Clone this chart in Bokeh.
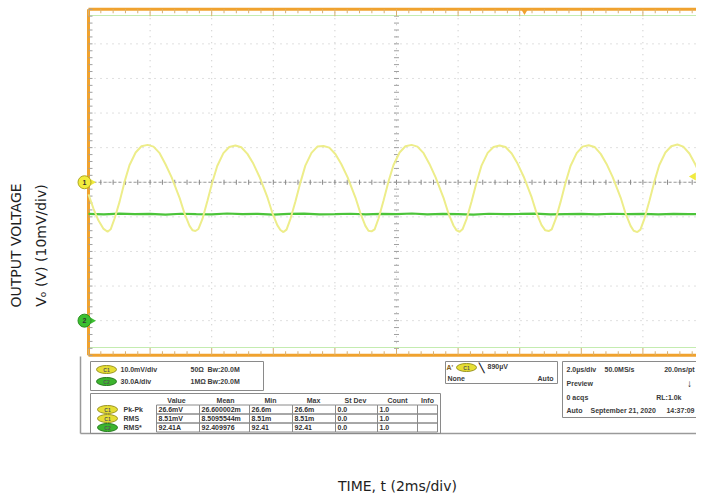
import numpy as np
from bokeh.plotting import figure
from bokeh.models import Range1d
from bokeh.core.properties import value
from bokeh.embed import file_html
from bokeh.resources import INLINE

# ---------------- data ----------------
# Channel 1 (output voltage, mV) vs time (ms)
time_ms = [0.00, 0.16, 0.32, 0.48,
           0.62, 0.72, 0.85, 1.01, 1.17, 1.33, 1.53, 1.72, 1.92, 2.11, 2.31, 2.50, 2.70, 2.96, 3.12, 3.28, 3.38,
           3.47, 3.57, 3.70, 3.86, 4.02, 4.18, 4.38, 4.57, 4.77, 4.96, 5.16, 5.35, 5.55, 5.81, 5.97, 6.13, 6.23,
           6.33, 6.43, 6.56, 6.72, 6.88, 7.04, 7.24, 7.43, 7.63, 7.82, 8.02, 8.21, 8.41, 8.67, 8.83, 8.99, 9.09,
           9.19, 9.29, 9.42, 9.58, 9.74, 9.90, 10.10, 10.29, 10.49, 10.68, 10.88, 11.07, 11.27, 11.53, 11.69, 11.85, 11.95,
           12.05, 12.15, 12.28, 12.44, 12.60, 12.76, 12.96, 13.15, 13.35, 13.54, 13.74, 13.93, 14.13, 14.39, 14.55, 14.71, 14.83,
           14.94, 15.04, 15.17, 15.33, 15.49, 15.65, 15.85, 16.04, 16.24, 16.43, 16.63, 16.82, 17.02, 17.28, 17.44, 17.60, 17.70,
           17.82, 17.92, 18.05, 18.21, 18.37, 18.53, 18.73, 18.92, 19.12, 19.31, 19.51, 19.70, 19.90, 20.00]
vo_mv = [-3.5, -7.6, -11.0, -13.4,
         -14.3, -13.6, -10.4, -5.6, 0.1, 4.9, 8.6, 10.4, 10.8, 10.3, 8.4, 5.2, 1.4, -4.6, -9.1, -12.6, -13.9,
         -14.1, -13.5, -10.6, -5.4, 0.0, 4.7, 8.4, 10.2, 10.6, 10.1, 8.2, 5.4, 1.6, -4.4, -8.9, -12.4, -13.8,
         -14.4, -13.7, -10.5, -5.5, -0.1, 4.8, 8.5, 10.3, 10.5, 10.0, 8.1, 5.2, 1.5, -4.5, -9.0, -12.6, -14.0,
         -14.2, -13.6, -10.4, -5.3, 0.2, 4.9, 8.6, 10.4, 10.8, 10.3, 8.4, 5.3, 1.4, -4.6, -9.1, -12.5, -13.9,
         -14.3, -13.5, -10.5, -5.5, 0.0, 4.8, 8.5, 10.2, 10.6, 10.2, 8.3, 5.4, 1.6, -4.4, -9.0, -12.4, -13.9,
         -14.1, -13.6, -10.6, -5.6, -0.1, 4.7, 8.4, 10.3, 10.7, 10.2, 8.2, 5.3, 1.5, -4.5, -9.1, -12.6, -14.0,
         -14.4, -13.7, -10.5, -5.4, 0.1, 4.9, 8.6, 10.4, 10.9, 10.3, 8.3, 5.2, 1.4, -0.2]

# Channel 2 (current, A) vs time (ms)
ch2_time_ms = [0.0, 0.5, 1.0, 1.5, 2.0, 2.5, 3.0, 3.5, 4.0, 4.5, 5.0, 5.5, 6.0, 6.5, 7.0, 7.5, 8.0,
               8.5, 9.0, 9.5, 10.0, 10.5, 11.0, 11.5, 12.0, 12.5, 13.0, 13.5, 14.0, 14.5, 15.0, 15.5,
               16.0, 16.5, 17.0, 17.5, 18.0, 18.5, 19.0, 19.5, 20.0]
ch2_amps = [92.6, 92.1, 92.8, 92.3, 92.5, 91.9, 92.7, 92.4, 92.2, 92.9, 92.3, 92.6, 92.0, 92.5, 92.8,
            92.2, 92.4, 92.7, 92.1, 92.5, 92.3, 92.9, 92.2, 92.6, 92.4, 92.0, 92.7, 92.3, 92.5, 92.8,
            92.1, 92.4, 92.6, 92.2, 92.7, 92.3, 92.5, 92.1, 92.6, 92.4, 92.3]

# Scope settings / measurement table texts
ch_settings = [["10.0mV/div", "50Ω", "Bw:20.0M"], ["30.0A/div", "1MΩ", "Bw:20.0M"]]
table_header = ["Value", "Mean", "Min", "Max", "St Dev", "Count", "Info"]
meas_names = ["Pk-Pk", "RMS", "RMS*"]
meas_value = ["26.6mV", "8.51mV", "92.41A"]
meas_mean = ["26.600002m", "8.5095544m", "92.409976"]
meas_min = ["26.6m", "8.51m", "92.41"]
meas_max = ["26.6m", "8.51m", "92.41"]
meas_std = ["0.0", "0.0", "0.0"]
meas_count = ["1.0", "1.0", "1.0"]
meas_info = ["", "", ""]

# ---------------- figure / scales ----------------
PX_MS = 30.8          # screen px per ms (61.6 px per 2 ms division)
PX_MV = 3.46          # screen px per mV (34.6 px per 10 mV division)
X0 = 88.0             # canvas px of t = 0
YTOP = 8.75           # canvas px of +50 mV

def xp(X):
    return (X - X0) / PX_MS

def yp(Y):
    return 50.0 - (Y - YTOP) / PX_MV

W, H = 696, 496
p = figure(width=W, height=H, output_backend="svg", toolbar_location=None,
           x_range=Range1d(xp(0), xp(W)), y_range=Range1d(yp(H), yp(0)),
           x_axis_type=None, y_axis_type=None, min_border=0)
p.outline_line_color = None
p.grid.visible = False
p.background_fill_color = "white"
p.border_fill_color = "white"
# channel 2: 30 A/div, ground 4 divisions below centre
y0, y1 = yp(H), yp(0)
p.extra_y_ranges = {"amps": Range1d(3 * (y0 + 40), 3 * (y1 + 40))}

FONT = value("Liberation Sans")
def txt(xs, ys, texts, align="left", size="7px", color="#3a3a3a", bold=True, font=FONT, angle=0):
    p.text(x=xs, y=ys, text=texts, text_font=font, text_font_size=size,
           text_font_style="bold" if bold else "normal", text_color=color,
           text_align=align, text_baseline="middle", angle=angle)

# ---------------- graticule ----------------
divs_x = np.arange(0, 20.001, 2.0)
divs_y = np.arange(-50, 50.001, 10.0)
p.segment(x0=divs_x, y0=-50, x1=divs_x, y1=50, line_color="#c0c0c0", line_width=1, line_dash="1 5")
p.segment(x0=0, y0=divs_y, x1=20, y1=divs_y, line_color="#c0c0c0", line_width=1, line_dash="1 5")
# centre cross with minor ticks
p.segment(x0=[0], y0=[0], x1=[20], y1=[0], line_color="#9a9a9a", line_width=1, line_dash="3 2")
mx = np.arange(0, 20.001, 0.4)
p.segment(x0=mx, y0=-2.5 / PX_MV, x1=mx, y1=2.5 / PX_MV, line_color="#888888", line_width=1)
my = np.arange(-50, 50.001, 2.0)
p.segment(x0=10 - 2.5 / PX_MS, y0=my, x1=10 + 2.5 / PX_MS, y1=my, line_color="#a0a0a0", line_width=1)
# light green cursor lines
p.segment(x0=0, y0=[yp(15), yp(347)], x1=20, y1=[yp(15), yp(347)], line_color="#c4ecb0", line_width=1)

# orange frame with ticks
ORANGE = "#f0a22e"
p.segment(x0=0, y0=50, x1=20, y1=50, line_color=ORANGE, line_width=3)
p.segment(x0=0, y0=-50, x1=20, y1=-50, line_color=ORANGE, line_width=3)
p.segment(x0=0, y0=-50, x1=0, y1=50, line_color=ORANGE, line_width=3)
tick_len = np.where(np.isclose(mx % 2.0, 0) | np.isclose(mx % 2.0, 2.0), 7, 4) / PX_MV
p.segment(x0=mx, y0=50, x1=mx, y1=50 - tick_len, line_color="#d8b070", line_width=1)
p.segment(x0=mx, y0=-50, x1=mx, y1=-50 + tick_len, line_color="#d8b070", line_width=1)
p.segment(x0=0, y0=my, x1=4 / PX_MS, y1=my, line_color="#a0a0a0", line_width=1)

# ---------------- traces ----------------
p.line(ch2_time_ms, ch2_amps, y_range_name="amps", line_color="#4cc43a", line_width=2.2)
p.line(time_ms, vo_mv, line_color="#eded8a", line_width=2)

# channel ground markers
p.scatter(x=[xp(92), xp(92)], y=[0, -40], marker="triangle", angle=-np.pi / 2, size=6,
          fill_color=["#f0ea40", "#3cc030"], line_color=None)
p.scatter(x=[xp(84), xp(84)], y=[0, -40], marker="circle", size=13,
          fill_color=["#f2ec3c", "#3cc030"], line_color=["#b0a820", "#2a9020"], line_width=1)
txt([xp(84), xp(84)], [0, -40], ["1", "2"], align="center", size="7px", color="#333333")
# trigger position / level markers
p.scatter(x=[xp(524)], y=[yp(10)], marker="inverted_triangle", size=8, fill_color=ORANGE, line_color=None)
p.scatter(x=[xp(693)], y=[yp(176)], marker="triangle", angle=np.pi / 2, size=8, fill_color="#f0ea40", line_color=None)

# ---------------- scope info panel ----------------
GRAY = "#8a8a8a"
p.segment(x0=[xp(80), xp(80)], y0=[yp(356), yp(433)], x1=[xp(80), xp(704)], y1=[yp(433), yp(433)],
          line_color="#9a9a9a", line_width=1.5)

def box(l, t, r, b):
    p.quad(left=xp(l), right=xp(r), top=yp(t), bottom=yp(b), fill_color=None, line_color=GRAY, line_width=1)

def pill(Xs, Ys, colors, labels):
    p.ellipse(x=[xp(X) for X in Xs], y=[yp(Y) for Y in Ys], width=20, height=8,
              width_units="screen", height_units="screen",
              fill_color=[c[0] for c in colors], line_color=[c[1] for c in colors], line_width=1)
    txt([xp(X) for X in Xs], [yp(Y) for Y in Ys], labels, align="center", size="5px", color="#555555")

YEL = ("#e6de34", "#9a9420")
GRN = ("#3cb42e", "#237a1c")

# channel settings box
box(90, 361, 263, 390)
pill([106, 106], [369, 381], [YEL, GRN], ["C1", "C2"])
for row, Y in zip(ch_settings, [369, 381]):
    txt([xp(120), xp(190), xp(207)], [yp(Y)] * 3, row)

# trigger box
box(445, 361, 557, 383)
txt([xp(446)], [yp(367)], ["A'"], color="#806020")
pill([466], [367], [YEL], ["C1"])
txt([xp(478)], [yp(367)], ["╲"], size="9px", color="#222222")
txt([xp(487)], [yp(366)], ["890µV"])
txt([xp(447)], [yp(378)], ["None"])
txt([xp(553)], [yp(378)], ["Auto"], align="right")

# timebase box
box(562, 361, 712, 417)
txt([xp(566), xp(604)], [yp(369)] * 2, ["2.0µs/div", "50.0MS/s"])
txt([xp(694)], [yp(369)], ["20.0ns/pt"], align="right")
txt([xp(566)], [yp(383)], ["Preview"])
txt([xp(689)], [yp(383)], ["↓"], align="center", size="10px", color="#222222")
txt([xp(566)], [yp(397)], ["0 acqs"])
txt([xp(681)], [yp(397)], ["RL:1.0k"], align="right")
txt([xp(566), xp(590)], [yp(410)] * 2, ["Auto", "September 21, 2020"])
txt([xp(694)], [yp(410)], ["14:37:09"], align="right")

# measurement table
box(90, 393, 440, 433)
col_edges = [156, 199, 249, 292, 335, 377, 417, 437]
header_x = [176, 225, 270, 313, 355, 397, 427]
txt([xp(X) for X in header_x], [yp(400)] * 7, table_header, align="center")
row_tops = [404.5, 413.5, 422.5]
row_h = 9
cols = [meas_value, meas_mean, meas_min, meas_max, meas_std, meas_count, meas_info]
for r, top in enumerate(row_tops):
    for c in range(7):
        box(col_edges[c], top, col_edges[c + 1], top + row_h)
        if cols[c][r]:
            txt([xp(col_edges[c] + 2)], [yp(top + row_h / 2)], [cols[c][r]], color="#303030")
pill([107, 107, 107], [t + row_h / 2 for t in row_tops], [YEL, YEL, GRN], ["C1", "C1", "C2"])
txt([xp(123)] * 3, [yp(t + row_h / 2) for t in row_tops], meas_names)

# ---------------- axis titles ----------------
TFONT = value("DejaVu Sans")
txt([xp(15)], [yp(245)], ["OUTPUT VOLTAGE"], align="center", size="14px", color="#1e1e1e",
    bold=False, font=TFONT, angle=np.pi / 2)
txt([xp(40)], [yp(245)], ["Vₒ (V) (10mV/div)"], align="center", size="14px", color="#1e1e1e",
    bold=False, font=TFONT, angle=np.pi / 2)
txt([xp(397)], [yp(485)], ["TIME, t (2ms/div)"], align="center", size="14px", color="#1e1e1e",
    bold=False, font=TFONT)

open("out.html", "w").write(file_html(p, INLINE))
